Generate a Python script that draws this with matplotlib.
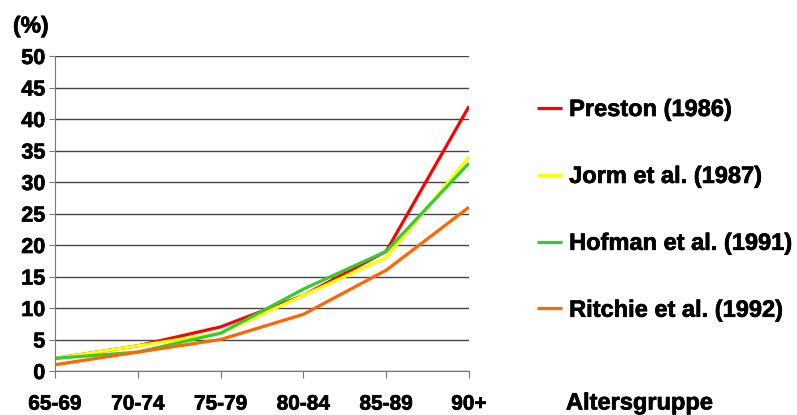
import matplotlib.pyplot as plt
from matplotlib import font_manager as fm
import matplotlib.patheffects as pe
import numpy as np

# Arial-like bold face, picked by file so the weight is certain
bold_file = [f.fname for f in fm.fontManager.ttflist if f.fname.endswith('LiberationSans-Bold.ttf')][0]

age_groups = ['65-69', '70-74', '75-79', '80-84', '85-89', '90+']
preston = [2, 4, 7, 12, 19, 42]
jorm = [2, 4, 6, 12, 18, 34]
hofman = [2, 3, 6, 13, 19, 33]
ritchie = [1, 3, 5, 9, 16, 26]

series = [
    ('Preston (1986)', preston, '#ff0000'),
    ('Jorm et al. (1987)', jorm, '#ffff00'),
    ('Hofman et al. (1991)', hofman, '#33cc33'),
    ('Ritchie et al. (1992)', ritchie, '#ff6600'),
]

heavy = [pe.withStroke(linewidth=0.5, foreground='black')]

def bold(size):
    return fm.FontProperties(fname=bold_file, size=size)

fig = plt.figure(figsize=(7.97, 4.15), dpi=100)
ax = fig.add_axes([55 / 797, 1 - 371 / 415, (469 - 55) / 797, (371 - 56) / 415])

x = np.arange(len(age_groups))
handles = []
for name, vals, col in series:
    h, = ax.plot(x, vals, color=col, lw=2.3, label=name, solid_capstyle='butt')
    handles.append(h)

ax.set_xlim(0, len(age_groups) - 1)
ax.set_ylim(0, 50)
ax.set_yticks(range(0, 51, 5))
ax.set_xticks(x)
ax.set_xticklabels(age_groups, fontproperties=bold(15))
ax.set_yticklabels([str(v) for v in range(0, 51, 5)], fontproperties=bold(15.5))
for t in ax.get_xticklabels() + ax.get_yticklabels():
    t.set_path_effects(heavy)
ax.grid(axis='y', color='#444444', lw=1)
ax.set_axisbelow(True)

for s in ['top', 'right']:
    ax.spines[s].set_visible(False)
ax.spines['left'].set_color('#777777')
ax.spines['bottom'].set_color('#777777')
ax.tick_params(axis='x', length=5, color='#777777', pad=12)
ax.tick_params(axis='y', length=4, color='#777777', pad=3)

fig.text(13 / 797, 1 - 26 / 415, '(%)', fontproperties=bold(16.5), va='center', path_effects=heavy)
fig.text(566 / 797, 1 - 403 / 415, 'Altersgruppe', fontproperties=bold(17), va='center', path_effects=heavy)

leg = fig.legend(handles=handles, loc='upper left', bbox_to_anchor=(537 / 797, 1 - 98 / 415),
                 frameon=False, prop=bold(17), labelspacing=1.86,
                 handlelength=1.06, handletextpad=0.3, borderaxespad=0, borderpad=0)
for t in leg.get_texts():
    t.set_path_effects(heavy)

fig.savefig('out.png', dpi=100)
